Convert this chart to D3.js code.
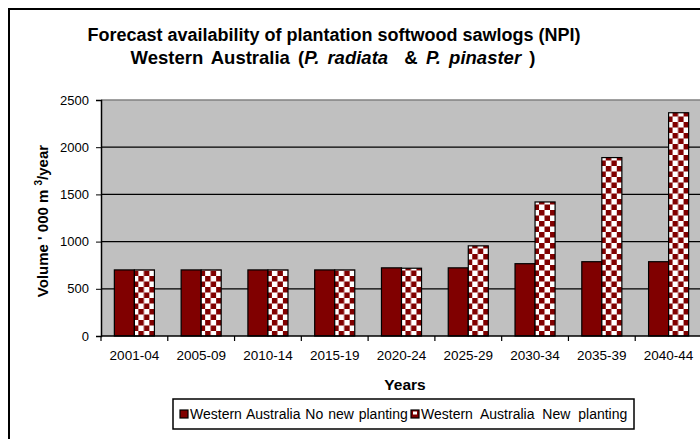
<!DOCTYPE html>
<html>
<head>
<meta charset="utf-8">
<script src="https://cdn.jsdelivr.net/npm/d3@7"></script>
<style>
  body { margin: 0; background: #fff; }
  text { font-family: "Liberation Sans", Arial, sans-serif; white-space: pre; }
</style>
</head>
<body>
<svg width="700" height="439"></svg>
<script>
var categories = ["2001-04", "2005-09", "2010-14", "2015-19", "2020-24", "2025-29", "2030-34", "2035-39", "2040-44"];
var noNewPlanting = [700, 700, 700, 700, 722, 722, 766, 787, 787];
var newPlanting = [700, 700, 700, 700, 718, 955, 1420, 1890, 2365];
var seriesNames = ["Western Australia No new planting", "Western Australia New planting"];
var yTicks = [0, 500, 1000, 1500, 2000, 2500];

var svg = d3.select("svg");

// checker pattern for the "new planting" bars
var sq = 5.5;
var defs = svg.append("defs");
var pat = defs.append("pattern")
    .attr("id", "checker")
    .attr("patternUnits", "userSpaceOnUse")
    .attr("width", sq * 2).attr("height", sq * 2)
    .attr("x", 2).attr("y", 1);
pat.append("rect").attr("width", sq * 2).attr("height", sq * 2).attr("fill", "#fff");
pat.append("rect").attr("width", sq).attr("height", sq).attr("fill", "#800000");
pat.append("rect").attr("x", sq).attr("y", sq).attr("width", sq).attr("height", sq).attr("fill", "#800000");

// outer chart border
svg.append("rect")
    .attr("x", 9).attr("y", 9)
    .attr("width", 720).attr("height", 440)
    .attr("fill", "none")
    .attr("stroke", "#000")
    .attr("stroke-width", 2);

var x0 = d3.scaleBand().domain(categories).range([101, 702]).paddingInner(0.4).paddingOuter(0.2);
var x1 = d3.scaleBand().domain([0, 1]).range([0, x0.bandwidth()]);
var y = d3.scaleLinear().domain([0, 2500]).range([336, 100]);

// plot area
svg.append("rect")
    .attr("x", 101).attr("y", y(2500))
    .attr("width", 620).attr("height", y(0) - y(2500))
    .attr("fill", "#c0c0c0");
svg.append("line")
    .attr("x1", 101).attr("x2", 720)
    .attr("y1", y(2500)).attr("y2", y(2500))
    .attr("stroke", "#808080").attr("stroke-width", 1.5);

// gridlines
svg.append("g")
  .selectAll("line")
  .data(yTicks.filter(function(d) { return d > 0 && d < 2500; }))
  .enter().append("line")
    .attr("x1", 101).attr("x2", 720)
    .attr("y1", function(d) { return y(d); })
    .attr("y2", function(d) { return y(d); })
    .attr("stroke", "#000").attr("stroke-width", 1.2);

// bars
var groups = svg.append("g")
  .selectAll("g")
  .data(categories)
  .enter().append("g")
    .attr("transform", function(d) { return "translate(" + x0(d) + ",0)"; });

groups.append("rect")
    .attr("x", x1(0))
    .attr("y", function(d, i) { return y(noNewPlanting[i]); })
    .attr("width", x1.bandwidth())
    .attr("height", function(d, i) { return y(0) - y(noNewPlanting[i]); })
    .attr("fill", "#800000")
    .attr("stroke", "#000").attr("stroke-width", 1.2);

groups.append("rect")
    .attr("x", x1(1))
    .attr("y", function(d, i) { return y(newPlanting[i]); })
    .attr("width", x1.bandwidth())
    .attr("height", function(d, i) { return y(0) - y(newPlanting[i]); })
    .attr("fill", "url(#checker)")
    .attr("stroke", "#000").attr("stroke-width", 1.2);

// y axis
var yAxis = svg.append("g")
    .attr("transform", "translate(101,0)")
    .call(d3.axisLeft(y).tickValues(yTicks).tickSize(5).tickPadding(7).tickFormat(d3.format("d")));
yAxis.select(".domain").attr("stroke", "#000").attr("stroke-width", 1.5);
yAxis.selectAll("text").attr("font-size", 13).attr("fill", "#000")
    .style("font-family", "'Liberation Sans', Arial, sans-serif");

// x axis with ticks at category boundaries
var xAxis = svg.append("g").attr("transform", "translate(0," + y(0) + ")");
xAxis.append("line")
    .attr("x1", 101).attr("x2", 720)
    .attr("stroke", "#000").attr("stroke-width", 1.5);
xAxis.selectAll(".tk")
  .data(categories)
  .enter().append("line")
    .attr("class", "tk")
    .attr("x1", function(d) { return x0(d) - x0.step() * 0.2; })
    .attr("x2", function(d) { return x0(d) - x0.step() * 0.2; })
    .attr("y1", 0).attr("y2", 5)
    .attr("stroke", "#000").attr("stroke-width", 1.2);
xAxis.selectAll(".lbl")
  .data(categories)
  .enter().append("text")
    .attr("class", "lbl")
    .attr("x", function(d) { return x0(d) + x0.bandwidth() / 2; })
    .attr("y", 24)
    .attr("text-anchor", "middle")
    .attr("font-size", 13.5)
    .text(function(d) { return d; });

// titles
svg.append("text")
    .attr("x", 334).attr("y", 41)
    .attr("text-anchor", "middle")
    .attr("font-weight", "bold")
    .attr("font-size", 18)
    .text("Forecast availability of plantation softwood sawlogs (NPI)");
var t2 = svg.append("text")
    .attr("x", 333).attr("y", 64)
    .attr("text-anchor", "middle")
    .attr("font-weight", "bold")
    .attr("font-size", 18.5)
    .attr("word-spacing", 3);
t2.append("tspan").text("Western Australia (");
t2.append("tspan").attr("font-style", "italic").text("P. radiata");
t2.append("tspan").text("  & ");
t2.append("tspan").attr("font-style", "italic").text("P. pinaster");
t2.append("tspan").text(" )");

var yl = svg.append("text")
    .attr("transform", "translate(48,221) rotate(-90)")
    .attr("text-anchor", "middle")
    .attr("font-weight", "bold")
    .attr("font-size", 15);
yl.append("tspan").text("Volume ' 000 m ");
yl.append("tspan").attr("font-size", 10).attr("dy", -6).text("3");
yl.append("tspan").attr("dy", 6).text("/year");

svg.append("text")
    .attr("x", 405).attr("y", 390)
    .attr("text-anchor", "middle")
    .attr("font-weight", "bold")
    .attr("font-size", 15.5)
    .text("Years");

// legend
var legend = svg.append("g");
legend.append("rect")
    .attr("x", 173).attr("y", 399)
    .attr("width", 461).attr("height", 30)
    .attr("fill", "#fff")
    .attr("stroke", "#000").attr("stroke-width", 1.5);

var legX = [180, 411];
var legSpacing = [1, 4];
var items = legend.selectAll(".item")
  .data(seriesNames)
  .enter().append("g")
    .attr("class", "item")
    .attr("transform", function(d, i) { return "translate(" + legX[i] + ",410)"; });
items.append("rect")
    .attr("width", 8).attr("height", 8)
    .attr("fill", "#800000")
    .attr("stroke", "#000").attr("stroke-width", 1.2);
items.filter(function(d, i) { return i == 1; })
  .append("rect")
    .attr("x", 2).attr("y", 1.5).attr("width", 4).attr("height", 3)
    .attr("fill", "#fff");
items.append("text")
    .attr("x", 10).attr("y", 9)
    .attr("font-size", 14)
    .attr("word-spacing", function(d, i) { return legSpacing[i]; })
    .text(function(d) { return d; });
</script>
</body>
</html>
